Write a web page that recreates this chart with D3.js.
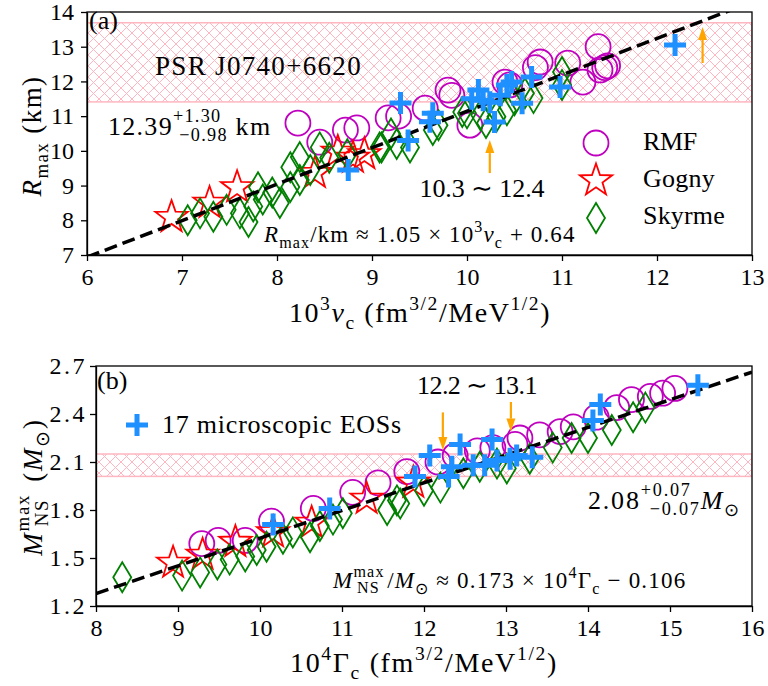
<!DOCTYPE html>
<html>
<head>
<meta charset="utf-8">
<script src="https://cdn.jsdelivr.net/npm/d3@7"></script>
<style>
  body { margin: 0; background: #fff; }
  .axis path, .axis line { stroke: #000; stroke-width: 1.3; }
  .axis text { fill: #000; }
</style>
</head>
<body>
<div id="chart"></div>
<script>
const WIDTH = 768;
const HEIGHT = 686;

// panel (a): R_max vs 10^3 nu_c
const xTicksA = [6, 7, 8, 9, 10, 11, 12, 13];
const yTicksA = [7, 8, 9, 10, 11, 12, 13, 14];
const rmfA = [[8.22,10.80],[8.45,10.25],[8.72,10.60],[8.84,10.66],[9.17,10.95],[9.28,11.00],[9.56,11.23],[9.80,11.75],[9.84,11.60],[10.03,10.74],[10.40,11.98],[10.45,11.90],[10.72,12.40],[10.77,12.56],[11.06,12.53],[11.22,11.98],[11.38,13.00],[11.40,12.33],[11.45,12.40],[11.48,12.45]];
const gognyA = [[6.89,8.09],[7.29,8.50],[7.58,8.95],[8.40,9.36],[8.64,9.97],[8.80,9.80],[8.92,9.90]];
const skyrmeA = [[7.06,8.00],[7.19,8.20],[7.33,8.10],[7.47,8.30],[7.61,8.20],[7.70,7.95],[7.75,8.40],[7.80,8.95],[7.85,8.60],[7.95,8.80],[8.03,8.50],[8.14,8.96],[8.14,9.53],[8.24,9.16],[8.24,9.82],[8.35,9.45],[8.45,10.10],[8.55,9.80],[8.74,9.90],[9.08,10.10],[9.10,10.10],[9.20,10.50],[9.26,10.20],[9.40,10.10],[9.64,10.60],[9.70,10.74],[9.95,11.12],[10.00,11.08],[10.14,11.03],[10.20,10.80],[10.31,10.98],[10.42,11.17],[10.50,11.46],[10.61,11.66],[10.70,11.52],[11.00,11.90],[11.00,12.27]];
const microA = [[8.75,9.45],[9.30,11.38],[9.38,10.30],[9.61,10.84],[9.64,11.08],[10.05,11.50],[10.12,11.75],[10.17,11.46],[10.24,11.40],[10.29,10.83],[10.35,11.60],[10.42,11.90],[10.47,11.98],[10.58,11.37],[10.68,12.13],[10.98,11.84],[12.19,13.05]];
const fitA = [1.05, 0.64];          // slope, intercept
const bandA = [11.41, 13.69];       // 12.39 +1.30 -0.98
const arrowsA = [[10.24, 9.36, 10.31], [12.48, 12.53, 13.57]]; // x, from, to

// panel (b): M_max vs 10^4 Gamma_c
const xTicksB = [8, 9, 10, 11, 12, 13, 14, 15, 16];
const yTicksB = [1.2, 1.5, 1.8, 2.1, 2.4, 2.7];
const rmfB = [[9.29,1.59],[9.49,1.61],[9.82,1.61],[10.14,1.73],[10.65,1.81],[11.13,1.91],[11.44,1.97],[11.79,2.04],[12.17,2.10],[12.38,2.14],[12.65,2.17],[12.84,2.19],[13.11,2.21],[13.17,2.25],[13.41,2.27],[13.66,2.29],[13.82,2.32],[14.10,2.38],[14.35,2.44],[14.53,2.49],[14.76,2.51],[14.91,2.53],[15.06,2.56]];
const gognyB = [[8.94,1.47],[9.30,1.52],[9.70,1.60],[10.16,1.66],[10.63,1.72],[11.30,1.87],[11.87,1.97]];
const skyrmeB = [[8.32,1.38],[9.05,1.39],[9.27,1.41],[9.48,1.46],[9.63,1.49],[9.82,1.51],[9.96,1.55],[10.08,1.57],[10.28,1.62],[10.40,1.66],[10.61,1.63],[10.73,1.70],[10.89,1.74],[11.01,1.78],[11.55,1.80],[11.67,1.86],[11.71,1.84],[12.00,1.92],[12.20,1.94],[12.48,2.03],[12.68,2.07],[12.89,2.09],[13.01,2.06],[13.29,2.12],[13.57,2.19],[13.80,2.25],[14.00,2.25],[14.29,2.30],[14.55,2.38],[14.70,2.44]];
const microB = [[10.16,1.71],[10.85,1.81],[11.89,2.01],[12.07,2.14],[12.30,2.01],[12.34,2.07],[12.44,2.21],[12.60,2.08],[12.74,2.08],[12.83,2.24],[12.89,2.11],[13.05,2.12],[13.13,2.14],[13.32,2.13],[14.06,2.36],[14.15,2.46],[15.34,2.58]];
const fitB = [0.173, -0.106];
const bandB = [2.01, 2.15];         // 2.08 +-0.07
const arrowsB = [[12.23, 2.41, 2.175], [13.06, 2.475, 2.29]];

let colors = { rmf: "#bf00bf", gogny: "red", skyrme: "green", micro: "#1e90ff", band: "#ffb6c1", arrow: "orange" };

// find a serif face that is really installed
function pickFont(list) {
  let c = document.createElement("canvas").getContext("2d");
  let s = "PSR J0740+6620 Skyrme Gogny";
  for (let f of list) {
    for (let base of ["monospace", "sans-serif"]) {
      c.font = "40px " + base;
      let w0 = c.measureText(s).width;
      c.font = "40px '" + f + "', " + base;
      let w1 = c.measureText(s).width;
      if (Math.abs(w0 - w1) > 0.5) return "'" + f + "', serif";
    }
  }
  return "serif";
}
const FONT = pickFont(["Liberation Serif", "Times New Roman", "Tinos", "DejaVu Serif", "Noto Serif", "FreeSerif"]);

var svg = d3.select("#chart").append("svg")
  .attr("width", WIDTH)
  .attr("height", HEIGHT)
  .attr("font-family", FONT);

// crosshatch for the observational bands
let defs = svg.append("defs");
let pat = defs.append("pattern")
  .attr("id", "hatch")
  .attr("patternUnits", "userSpaceOnUse")
  .attr("width", 11).attr("height", 11);
pat.append("path")
  .attr("d", "M0,0L11,11M11,0L0,11M-1,10L1,12M10,-1L12,1M-1,1L1,-1M10,12L12,10")
  .attr("stroke", colors.band).attr("stroke-width", 1);

/* text with sub/superscripts, parts = [text, kind]; w = width to spread it to */
function rich(g, x, y, size, parts, anchor, w) {
  let t = g.append("text").attr("x", x).attr("y", y)
    .attr("font-size", size).attr("font-family", FONT)
    .attr("text-anchor", anchor || "start");
  let base = 0, nextDx = 0, nChars = 0;
  let small = size * 0.7;
  parts.forEach(([s, k]) => {
    if (k === "S") {
      let up = -size * 0.5, dn = size * 0.22;
      let a = t.append("tspan").attr("font-size", small).attr("dy", up - base).text(s[0]);
      if (nextDx) a.attr("dx", nextDx);
      let wa = a.node().getComputedTextLength();
      let b = t.append("tspan").attr("font-size", small).attr("dy", dn - up).attr("dx", -wa).text(s[1]);
      let wb = b.node().getComputedTextLength();
      base = dn;
      nextDx = wa > wb ? wa - wb : 0;
      nChars += Math.max(s[0].length, s[1].length);
      return;
    }
    let target = k === "b" ? size * 0.25 : k === "p" ? -size * 0.42 : 0;
    let ts = t.append("tspan").attr("dy", target - base).text(s);
    if (nextDx) { ts.attr("dx", nextDx); nextDx = 0; }
    if (k === "b" || k === "p") ts.attr("font-size", small);
    if (k === "i") ts.attr("font-style", "italic");
    base = target;
    nChars += s.length;
  });
  if (w) {
    let cur = t.node().getBBox().width;
    t.attr("letter-spacing", (w - cur) / nChars);
  }
  return t;
}

function starPath(R, r) {
  let pts = [];
  for (let i = 0; i < 10; i++) {
    let rad = i % 2 === 0 ? R : r;
    let ang = -Math.PI / 2 + i * Math.PI / 5;
    pts.push([rad * Math.cos(ang), rad * Math.sin(ang)]);
  }
  return "M" + pts.map(p => p.join(",")).join("L") + "Z";
}

const markers = {
  rmf: g => g.append("circle").attr("r", 12.5).attr("fill", "none").attr("stroke", colors.rmf).attr("stroke-width", 1.8),
  gogny: g => g.append("path").attr("d", starPath(17, 6.8)).attr("fill", "none").attr("stroke", colors.gogny).attr("stroke-width", 1.8).attr("stroke-linejoin", "miter"),
  skyrme: g => g.append("path").attr("d", "M0,-15L9,0L0,15L-9,0Z").attr("fill", "none").attr("stroke", colors.skyrme).attr("stroke-width", 1.8),
  micro: g => g.append("path").attr("d", "M-11,0H11M0,-11V11").attr("stroke", colors.micro).attr("stroke-width", 5)
};

function drawPoints(g, data, kind, x, y) {
  data.forEach(d => {
    let m = g.append("g").attr("transform", "translate(" + x(d[0]) + "," + y(d[1]) + ")");
    markers[kind](m);
  });
}

function arrow(g, x0, y0, y1) {
  let dir = y1 < y0 ? -1 : 1;
  let head = 13;
  g.append("line").attr("x1", x0).attr("x2", x0).attr("y1", y0).attr("y2", y1 - dir * head)
    .attr("stroke", colors.arrow).attr("stroke-width", 2.2);
  g.append("path")
    .attr("d", "M" + x0 + "," + y1 + "L" + (x0 - 4.5) + "," + (y1 - dir * head) + "L" + (x0 + 4.5) + "," + (y1 - dir * head) + "Z")
    .attr("fill", colors.arrow);
}

function panel(cfg) {
  let x = d3.scaleLinear().domain(cfg.xDom).range(cfg.xRange);
  let y = d3.scaleLinear().domain(cfg.yDom).range(cfg.yRange);
  let g = svg.append("g");

  defs.append("clipPath").attr("id", cfg.id)
    .append("rect").attr("x", cfg.xRange[0]).attr("y", cfg.yRange[1])
    .attr("width", cfg.xRange[1] - cfg.xRange[0]).attr("height", cfg.yRange[0] - cfg.yRange[1]);
  let inner = g.append("g").attr("clip-path", "url(#" + cfg.id + ")");

  // band
  inner.append("rect")
    .attr("x", cfg.xRange[0]).attr("width", cfg.xRange[1] - cfg.xRange[0])
    .attr("y", y(cfg.band[1])).attr("height", y(cfg.band[0]) - y(cfg.band[1]))
    .attr("fill", "url(#hatch)").attr("stroke", colors.band).attr("stroke-width", 1.5);

  drawPoints(inner, cfg.rmf, "rmf", x, y);
  drawPoints(inner, cfg.gogny, "gogny", x, y);
  drawPoints(inner, cfg.skyrme, "skyrme", x, y);

  inner.append("line")
    .attr("x1", x(cfg.xDom[0])).attr("y1", y(cfg.fit[0] * cfg.xDom[0] + cfg.fit[1]))
    .attr("x2", x(cfg.xDom[1])).attr("y2", y(cfg.fit[0] * cfg.xDom[1] + cfg.fit[1]))
    .attr("stroke", "#000").attr("stroke-width", 3.5).attr("stroke-dasharray", "13,6");

  drawPoints(inner, cfg.micro, "micro", x, y);

  cfg.arrows.forEach(a => arrow(inner, x(a[0]), y(a[1]), y(a[2])));

  // axes and frame
  g.append("g").attr("class", "axis")
    .attr("transform", "translate(0," + cfg.yRange[0] + ")")
    .call(d3.axisBottom(x).tickValues(cfg.xTicks).tickFormat(d3.format("d")).tickSize(6).tickPadding(7).tickSizeOuter(0))
    .call(a => a.attr("font-family", FONT).attr("font-size", 24));
  g.append("g").attr("class", "axis")
    .attr("transform", "translate(" + cfg.xRange[0] + ",0)")
    .call(d3.axisLeft(y).tickValues(cfg.yTicks).tickFormat(cfg.yFmt).tickSize(6).tickPadding(cfg.yPad).tickSizeOuter(0))
    .call(a => a.attr("font-family", FONT).attr("font-size", 24).attr("letter-spacing", cfg.yLs));
  g.append("rect")
    .attr("x", cfg.xRange[0]).attr("y", cfg.yRange[1])
    .attr("width", cfg.xRange[1] - cfg.xRange[0]).attr("height", cfg.yRange[0] - cfg.yRange[1])
    .attr("fill", "none").attr("stroke", "#000").attr("stroke-width", 1.3);

  return { g: g, x: x, y: y };
}

/* Panel (a) */
let pa = panel({
  id: "clipA", xDom: [6, 13], yDom: [7, 14], xRange: [87, 752], yRange: [255, 12],
  xTicks: xTicksA, yTicks: yTicksA, yFmt: d3.format("d"), yPad: 7, yLs: 0,
  rmf: rmfA, gogny: gognyA, skyrme: skyrmeA, micro: microA,
  fit: fitA, band: bandA, arrows: arrowsA
});
let ga = pa.g;
rich(ga, 89, 29, 26, [["(a)", "n"]]);
rich(ga, 155, 75, 27, [["PSR J0740+6620", "n"]], "start", 207);
rich(ga, 108, 135, 26, [["12.39", "n"], [["+1.30", "\u22120.98"], "S"], [" km", "n"]], "start", 157);
rich(ga, 482, 197, 26, [["10.3 \u223C 12.4", "n"]], "middle", 125);
rich(ga, 264, 242, 23, [["R", "i"], ["max", "b"], ["/km \u2248 1.05 \u00D7 10", "n"], ["3", "p"], ["\u03BD", "i"], ["c", "b"], [" + 0.64", "n"]], "start", 313);
rich(ga, 420, 322, 28, [["10", "n"], ["3", "p"], ["\u03BD", "i"], ["c", "b"], [" (fm", "n"], ["3/2", "p"], ["/MeV", "n"], ["1/2", "p"], [")", "n"]], "middle", 262);
rich(ga.append("g").attr("transform", "translate(41,136) rotate(-90)"), 0, 0, 27,
  [["R", "i"], ["max", "b"], [" (km)", "n"]], "middle", 122);

// legend (a)
const legendA = [["rmf", "RMF", 54], ["gogny", "Gogny", 72], ["skyrme", "Skyrme", 82]];
legendA.forEach((d, i) => {
  let m = ga.append("g").attr("transform", "translate(596," + (143 + i * 37.5) + ")");
  markers[d[0]](m);
  rich(ga, 643, 150 + i * 37, 26, [[d[1], "n"]], "start", d[2]);
});

/* Panel (b) */
let pb = panel({
  id: "clipB", xDom: [8, 16], yDom: [1.2, 2.7], xRange: [96, 752], yRange: [606, 366],
  xTicks: xTicksB, yTicks: yTicksB, yFmt: d3.format(".1f"), yPad: 3, yLs: 2.5,
  rmf: rmfB, gogny: gognyB, skyrme: skyrmeB, micro: microB,
  fit: fitB, band: bandB, arrows: arrowsB
});
let gb = pb.g;
rich(gb, 97, 389, 26, [["(b)", "n"]]);
rich(gb, 477, 394, 26, [["12.2 \u223C 13.1", "n"]], "middle", 120);
markers.micro(gb.append("g").attr("transform", "translate(137,425)"));
rich(gb, 162, 433, 26, [["17 microscopic EOSs", "n"]], "start", 240);
rich(gb, 588, 509, 26, [["2.08", "n"], [["+0.07", "\u22120.07"], "S"], ["M", "i"], ["\u2299", "b"]], "start", 144);
rich(gb, 333, 588, 23, [["M", "i"], [["max", "NS"], "S"], ["/", "n"], ["M", "i"], ["\u2299", "b"], [" \u2248 0.173 \u00D7 10", "n"], ["4", "p"], ["\u0393", "n"], ["c", "b"], [" \u2212 0.106", "n"]], "start", 352);
rich(gb, 424, 672, 28, [["10", "n"], ["4", "p"], ["\u0393", "n"], ["c", "b"], [" (fm", "n"], ["3/2", "p"], ["/MeV", "n"], ["1/2", "p"], [")", "n"]], "middle", 268);
rich(gb.append("g").attr("transform", "translate(42,487) rotate(-90)"), 0, 0, 27,
  [["M", "i"], [["max", "NS"], "S"], [" (", "n"], ["M", "i"], ["\u2299", "b"], [")", "n"]], "middle", 135);
</script>
</body>
</html>
